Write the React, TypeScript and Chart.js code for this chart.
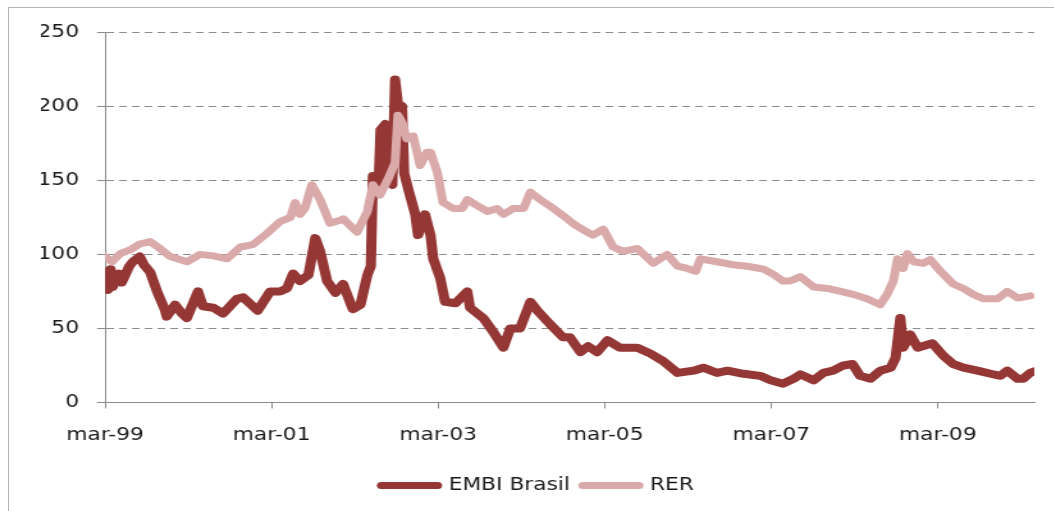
import React, { useEffect, useRef } from 'react';
import { Chart, registerables } from 'chart.js';
Chart.register(...registerables);

// months since March 1999
const embiMonths = [0, 0.4, 0.8, 1.1, 1.44, 2.0, 2.4, 2.9, 3.5, 4.0, 5.0, 5.6, 6.5, 7.5, 8.6, 8.9, 10.1, 11.1, 11.8, 13.4, 14.1, 15.6, 17.0, 19.0, 19.9, 22.0, 23.8, 25.2, 26.2, 27.1, 28.1, 29.3, 30.3, 31.0, 32.0, 33.2, 34.3, 35.7, 36.8, 37.8, 38.3, 38.6, 39.0, 39.4, 39.7, 40.4, 40.8, 41.4, 41.8, 42.2, 42.8, 43.1, 43.7, 44.7, 45.1, 46.1, 46.9, 47.3, 48.3, 49.0, 50.5, 52.2, 52.6, 54.5, 55.9, 57.4, 58.4, 59.8, 61.3, 62.3, 64.1, 66.0, 67.0, 68.5, 69.6, 70.9, 72.4, 74.2, 76.7, 78.6, 80.4, 82.5, 84.8, 86.2, 88.2, 89.7, 92.0, 94.4, 95.9, 97.7, 99.2, 100.2, 102.1, 103.5, 104.9, 106.4, 107.7, 108.8, 110.3, 111.7, 113.2, 113.9, 114.6, 115.0, 116.0, 117.1, 119.2, 120.8, 122.2, 123.7, 125.7, 127.6, 129.0, 130.0, 131.5, 132.3, 133.3, 133.9];
const embiValues = [88, 76, 90, 78, 82, 87, 81, 86, 92, 95, 98.5, 93, 88, 75, 63, 58, 66, 60, 57, 75, 65, 64, 60, 70, 71, 62, 75, 75, 77, 87, 82, 86, 111, 102, 82, 74, 80, 63, 66, 86, 92, 153, 148, 144, 184, 188, 149, 147, 218, 202, 200, 155, 144, 127, 113, 127, 113, 97, 84, 68, 67, 75, 64, 57, 48, 37, 50, 50, 68, 62, 53, 44, 44, 34, 38, 34, 42, 37, 37, 33, 28, 20, 21.5, 23.5, 20, 21.5, 19.4, 18, 15, 12.7, 16, 19, 15, 20, 21.5, 25, 26, 18, 16, 21.5, 23.5, 30, 57, 37, 46, 37, 40, 31.5, 26, 23.5, 21.5, 19.4, 18, 21.5, 16, 16, 20, 21];

const rerMonths = [0, 1.0, 2.2, 3.6, 5.0, 6.5, 7.9, 9.4, 11.8, 13.7, 15.6, 17.6, 19.5, 21.3, 23.3, 25.2, 26.7, 27.4, 28.1, 28.8, 29.8, 31.0, 32.4, 33.9, 34.3, 36.3, 37.8, 38.6, 39.6, 40.8, 41.8, 42.2, 42.8, 43.5, 44.4, 45.4, 46.4, 46.9, 47.9, 48.7, 50.2, 51.5, 52.2, 53.6, 55.1, 56.5, 57.4, 58.8, 60.3, 61.3, 62.7, 64.6, 66.6, 67.5, 68.9, 70.3, 71.8, 73.2, 74.7, 76.7, 79.0, 81.0, 82.5, 83.9, 85.1, 85.8, 88.2, 90.5, 92.5, 94.9, 96.3, 97.7, 98.7, 100.2, 102.1, 104.1, 106.0, 107.8, 109.8, 111.7, 112.7, 113.6, 114.2, 115.0, 115.6, 116.5, 117.9, 118.9, 120.4, 122.2, 123.7, 125.1, 126.6, 128.6, 130.0, 131.5, 133.3];
const rerValues = [98.5, 95, 100.5, 103, 107, 108.6, 104, 98.5, 95, 100, 99, 97, 105, 106.6, 114, 122, 125, 135, 127, 131, 147, 137, 121, 123, 124, 115, 129, 147, 140, 151, 162, 194, 189, 178, 180, 160, 169, 169, 155, 135, 131, 131, 137, 133, 129, 131, 127, 131, 131, 142, 137, 131, 124, 120.6, 116.6, 113, 117, 105, 102, 104, 94, 100, 92, 90.5, 88.5, 97, 95, 93, 92, 90, 86.5, 82, 82, 85, 78, 77, 75, 73, 70, 66, 73, 82, 97, 90.5, 100.5, 95, 94, 96.5, 88.5, 80, 77, 73, 70, 70, 75, 70.5, 72];

const tickMonths = [0, 24, 48, 72, 96, 120];
const tickLabels = ['mar-99', 'mar-01', 'mar-03', 'mar-05', 'mar-07', 'mar-09'];
const yTicks = [0, 50, 100, 150, 200, 250];
const seriesNames = ['EMBI Brasil', 'RER'];

const STRETCH = 1.28;
const FONT = '"DejaVu Sans", Verdana, sans-serif';
const TEXT = '#1a1a1a';
const AXIS = '#8c8c8c';
const EMBI_COLOR = '#953735';
const RER_COLOR = '#d9aaa9';

export default function App() {
  const ref = useRef<HTMLCanvasElement>(null);
  useEffect(() => {
    if (!ref.current) return;
    const font = { family: FONT, size: 17 };
    const chart = new Chart(ref.current, {
      type: 'line',
      data: {
        datasets: [
          {
            label: seriesNames[0],
            data: embiMonths.map((m, i) => ({ x: m, y: embiValues[i] })),
            borderColor: EMBI_COLOR,
            backgroundColor: EMBI_COLOR,
            borderWidth: 8,
            order: 2,
          },
          {
            label: seriesNames[1],
            data: rerMonths.map((m, i) => ({ x: m, y: rerValues[i] })),
            borderColor: RER_COLOR,
            backgroundColor: RER_COLOR,
            borderWidth: 7,
            order: 1,
          },
        ],
      },
      options: {
        animation: false,
        responsive: true,
        maintainAspectRatio: false,
        layout: { padding: { left: 25, right: 16, top: 21, bottom: 8 } },
        elements: {
          point: { radius: 0 },
          line: { tension: 0, borderCapStyle: 'round', borderJoinStyle: 'round' },
        },
        plugins: {
          tooltip: { enabled: false },
          legend: {
            position: 'bottom',
            labels: {
              usePointStyle: true,
              pointStyleWidth: 44,
              boxHeight: 7,
              padding: 10,
              font,
              color: TEXT,
              generateLabels: (c: any) =>
                c.data.datasets.map((ds: any, i: number) => ({
                  text: ds.label,
                  strokeStyle: ds.borderColor,
                  fillStyle: ds.borderColor,
                  lineWidth: 7,
                  lineCap: 'round',
                  pointStyle: 'line',
                  datasetIndex: i,
                  hidden: false,
                  fontColor: TEXT,
                })),
            },
          },
        },
        scales: {
          x: {
            type: 'linear',
            min: 0,
            max: 133.9,
            afterBuildTicks: (s: any) => {
              s.ticks = tickMonths.map((v) => ({ value: v }));
            },
            afterFit: (s: any) => {
              s.height = 64.5;
            },
            ticks: {
              callback: (v: any) => tickLabels[tickMonths.indexOf(Number(v))] ?? '',
              maxRotation: 0,
              autoSkip: false,
              padding: 17,
              font,
              color: TEXT,
            },
            grid: { display: true, drawOnChartArea: false, drawTicks: true, tickLength: 6, color: AXIS },
            border: { display: true, color: AXIS, width: 1 },
          },
          y: {
            min: 0,
            max: 250,
            afterBuildTicks: (s: any) => {
              s.ticks = yTicks.map((v) => ({ value: v }));
            },
            afterFit: (s: any) => {
              s.width = 50;
            },
            ticks: { padding: 14, font, color: TEXT },
            grid: { color: AXIS, tickLength: 6.25, tickBorderDash: [], tickColor: AXIS, lineWidth: 1 },
            border: { display: true, color: AXIS, width: 1, dash: [6, 4] },
          },
        },
      } as any,
    });
    return () => chart.destroy();
  }, []);

  return (
    <div
      style={{
        position: 'fixed',
        left: 8,
        top: 7,
        width: 1046,
        height: 504,
        borderLeft: '1px solid #b4b4b4',
        borderTop: '1px solid #b4b4b4',
        overflow: 'hidden',
        background: '#fff',
      }}
    >
      <div
        style={{
          position: 'relative',
          width: 817,
          height: 504,
          transform: `scaleX(${STRETCH})`,
          transformOrigin: '0 0',
        }}
      >
        <canvas ref={ref} />
      </div>
    </div>
  );
}
